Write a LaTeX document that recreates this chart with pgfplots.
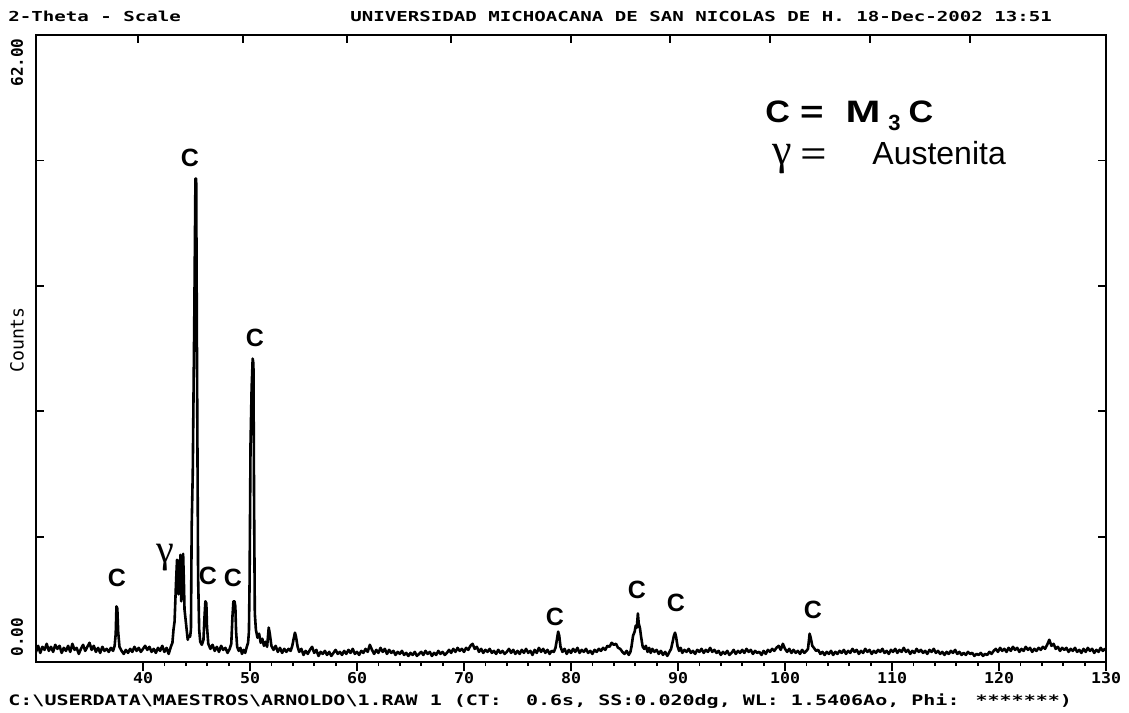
\documentclass[border=0pt]{standalone}
\usepackage{fontspec}
\setmainfont{Liberation Sans}
\newfontfamily\monof{DejaVu Sans Mono}
\newfontfamily\serf{Liberation Serif}
\usepackage{graphicx}
\usepackage{pgfplots}
\pgfplotsset{compat=1.18}
\newcommand\tlab[1]{\scalebox{1}[0.9]{\fontsize{8.3pt}{9pt}\monof\bfseries #1}}
\begin{document}
\begin{tikzpicture}
\begin{axis}[
  at={(0,0)}, anchor=south west,
  width=535pt, height=313.5pt, scale only axis,
  xmin=30, xmax=130, ymin=0, ymax=62,
  axis line style={line width=1pt},
  xtick={40,50,...,130}, minor x tick num=4,
  xticklabels={\tlab{40},\tlab{50},\tlab{60},\tlab{70},\tlab{80},\tlab{90},\tlab{100},\tlab{110},\tlab{120},\tlab{130}},
  xtick pos=left, tick align=outside,
  major tick length=4.5pt, minor tick length=2pt,
  tick style={line width=0.9pt, black},
  ytick=\empty,
  xticklabel style={inner sep=1pt, yshift=0.5pt},
  clip=true,
]
\addplot[black, line width=1.3pt, line join=round] coordinates {
(30.0,1.0)(30.2,1.6)(30.4,0.9)(30.6,1.5)(30.8,1.2)(31.0,1.8)(31.2,1.1)(31.4,1.5)(31.6,1.0)(31.8,1.7)
(32.0,1.3)(32.2,1.6)(32.4,0.9)(32.6,1.4)(32.8,1.1)(33.0,1.6)(33.2,1.0)(33.4,1.8)(33.6,1.2)(33.8,1.4)
(34.0,0.8)(34.2,1.3)(34.4,1.7)(34.6,1.1)(34.8,1.5)(35.0,1.9)(35.2,1.2)(35.4,1.6)(35.6,1.0)(35.8,1.4)
(36.0,0.9)(36.2,1.5)(36.4,1.1)(36.6,1.3)(36.8,1.0)(37.0,1.4)(37.2,1.1)(37.35,1.6)(37.45,2.8)(37.52,5.5)
(37.6,5.3)(37.68,3.0)(37.8,1.5)(38.0,1.1)(38.2,0.8)(38.4,1.2)(38.6,0.9)(38.8,1.3)(39.0,1.0)(39.2,1.5)
(39.4,1.1)(39.6,1.4)(39.8,1.0)(40.0,1.3)(40.2,1.6)(40.4,1.2)(40.6,1.5)(40.8,1.0)(41.0,1.3)(41.2,0.9)
(41.4,1.4)(41.6,1.1)(41.8,1.6)(42.0,1.0)(42.2,1.4)(42.4,0.8)(42.6,1.5)(42.75,1.9)(42.85,3.2)(42.95,4.0)
(43.08,7.7)(43.18,10.1)(43.25,10.0)(43.32,6.7)(43.42,8.0)(43.50,10.6)(43.57,6.0)(43.65,7.0)(43.75,10.7)(43.82,8.0)
(43.88,5.2)(43.95,4.5)(44.08,3.2)(44.18,2.2)(44.28,2.6)(44.40,2.5)(44.48,3.2)(44.55,13.4)(44.65,18.7)(44.80,34.8)
(44.90,47.8)(44.97,47.8)(45.05,29.2)(45.15,8.4)(45.25,3.2)(45.35,2.0)(45.5,1.7)(45.65,2.2)(45.75,4.5)(45.83,6.0)
(45.92,5.8)(45.98,3.5)(46.1,1.8)(46.3,1.3)(46.5,1.7)(46.7,1.1)(46.9,1.5)(47.1,1.0)(47.3,1.6)(47.5,1.2)
(47.7,1.4)(47.9,0.9)(48.1,1.3)(48.25,1.8)(48.36,4.5)(48.45,6.0)(48.55,6.0)(48.63,5.5)(48.7,3.0)(48.8,1.5)
(48.95,1.1)(49.1,1.4)(49.25,0.8)(49.4,1.2)(49.55,0.9)(49.7,1.5)(49.82,1.9)(49.9,3.0)(49.96,7.8)(50.05,21.6)
(50.15,27.0)(50.25,30.0)(50.32,29.5)(50.38,16.0)(50.45,4.8)(50.55,3.2)(50.7,2.4)(50.85,2.8)(51.0,1.9)(51.15,2.3)
(51.3,1.6)(51.45,2.0)(51.6,1.5)(51.75,3.4)(51.85,2.8)(52.0,1.6)(52.2,1.2)(52.4,1.6)(52.6,1.0)(52.8,1.4)
(53.0,0.9)(53.2,1.3)(53.4,1.0)(53.6,1.3)(53.8,1.1)(53.95,1.6)(54.1,2.4)(54.2,2.9)(54.3,2.5)(54.45,1.5)
(54.6,1.0)(54.8,1.3)(55.0,0.7)(55.2,1.1)(55.4,0.8)(55.6,1.2)(55.8,1.5)(56.0,0.9)(56.2,1.2)(56.4,0.6)
(56.6,1.0)(56.8,0.8)(57.0,1.1)(57.2,0.7)(57.4,1.0)(57.6,0.6)(57.8,0.9)(58.0,1.2)(58.2,0.8)(58.4,1.0)
(58.6,0.7)(58.8,1.1)(59.0,0.8)(59.2,1.2)(59.4,0.9)(59.6,1.3)(59.8,0.8)(60.0,1.0)(60.2,0.7)(60.4,1.1)
(60.6,0.9)(60.8,1.3)(61.0,1.0)(61.2,1.7)(61.4,1.2)(61.6,0.8)(61.8,1.2)(62.0,0.9)(62.2,1.4)(62.4,1.0)
(62.6,1.3)(62.8,0.8)(63.0,1.2)(63.2,0.9)(63.4,1.1)(63.6,0.7)(63.8,1.0)(64.0,0.8)(64.2,1.1)(64.4,0.7)
(64.6,0.9)(64.8,0.6)(65.0,0.9)(65.2,0.7)(65.4,1.0)(65.6,0.6)(65.8,0.8)(66.0,1.0)(66.2,0.7)(66.4,1.1)
(66.6,0.8)(66.8,1.0)(67.0,0.6)(67.2,0.9)(67.4,0.7)(67.6,1.1)(67.8,0.8)(68.0,1.0)(68.2,0.7)(68.4,0.9)
(68.6,1.2)(68.8,0.9)(69.0,1.3)(69.2,1.0)(69.4,1.4)(69.6,1.1)(69.8,1.3)(70.0,1.0)(70.2,1.4)(70.4,1.2)
(70.6,1.6)(70.8,1.8)(71.0,1.3)(71.2,1.5)(71.4,1.0)(71.6,1.3)(71.8,0.9)(72.0,1.2)(72.2,1.0)(72.4,1.3)
(72.6,0.9)(72.8,1.1)(73.0,0.8)(73.2,1.2)(73.4,0.9)(73.6,1.1)(73.8,0.8)(74.0,1.0)(74.2,1.3)(74.4,0.9)
(74.6,1.2)(74.8,0.8)(75.0,1.1)(75.2,0.8)(75.4,1.2)(75.6,0.9)(75.8,1.3)(76.0,0.9)(76.2,1.1)(76.4,0.7)
(76.6,1.2)(76.8,0.9)(77.0,1.4)(77.2,1.0)(77.4,1.3)(77.6,0.9)(77.8,1.2)(78.0,0.8)(78.2,1.1)(78.4,1.0)
(78.55,1.4)(78.68,2.2)(78.8,3.0)(78.9,2.6)(79.02,1.5)(79.2,1.0)(79.4,1.3)(79.6,0.8)(79.8,1.2)(80.0,0.9)
(80.2,1.3)(80.4,1.0)(80.6,1.4)(80.8,0.9)(81.0,1.2)(81.2,1.0)(81.4,1.3)(81.6,0.9)(81.8,1.1)(82.0,0.8)
(82.2,1.2)(82.4,1.0)(82.6,1.3)(82.8,1.1)(83.0,1.4)(83.2,1.2)(83.4,1.6)(83.6,1.5)(83.8,1.9)(84.0,1.7)
(84.2,1.8)(84.4,1.4)(84.6,1.3)(84.8,1.0)(85.0,0.8)(85.2,1.1)(85.4,0.7)(85.55,1.0)(85.65,1.5)(85.8,2.6)
(85.95,3.0)(86.05,3.6)(86.15,3.4)(86.25,4.8)(86.33,3.8)(86.45,3.3)(86.55,2.5)(86.7,1.5)(86.85,1.3)(87.0,1.6)
(87.15,1.0)(87.3,1.4)(87.45,0.9)(87.6,1.3)(87.8,1.0)(88.0,1.2)(88.2,0.8)(88.4,1.1)(88.6,0.7)(88.8,1.0)
(89.0,0.6)(89.2,1.0)(89.35,1.3)(89.5,2.0)(89.62,2.6)(89.72,2.9)(89.82,2.5)(89.95,1.6)(90.1,1.1)(90.25,1.4)
(90.4,0.9)(90.6,1.2)(90.8,1.0)(91.0,1.3)(91.2,0.9)(91.4,1.1)(91.6,0.8)(91.8,1.2)(92.0,1.0)(92.2,1.3)
(92.4,0.9)(92.6,1.2)(92.8,1.0)(93.0,1.4)(93.2,1.0)(93.4,1.2)(93.6,0.9)(93.8,1.1)(94.0,0.7)(94.2,1.0)
(94.4,0.8)(94.6,1.1)(94.8,0.7)(95.0,0.9)(95.2,1.2)(95.4,0.8)(95.6,1.1)(95.8,0.9)(96.0,1.2)(96.2,0.9)
(96.4,1.3)(96.6,1.0)(96.8,1.2)(97.0,0.8)(97.2,1.1)(97.4,0.9)(97.6,1.0)(97.8,0.7)(98.0,1.1)(98.2,0.8)
(98.4,1.2)(98.6,1.0)(98.8,1.3)(99.0,1.1)(99.2,1.4)(99.4,1.6)(99.6,1.2)(99.8,1.8)(100.0,1.3)(100.2,1.0)
(100.4,1.3)(100.6,0.9)(100.8,1.2)(101.0,0.9)(101.2,1.1)(101.4,0.8)(101.6,1.2)(101.8,0.9)(102.0,1.1)(102.15,1.3)
(102.3,2.8)(102.4,2.4)(102.55,1.6)(102.7,1.4)(102.9,1.1)(103.1,1.2)(103.3,0.8)(103.5,1.0)(103.7,0.7)(103.9,1.0)
(104.1,0.8)(104.3,1.1)(104.5,0.7)(104.7,1.0)(104.9,0.8)(105.1,1.1)(105.3,0.9)(105.5,1.2)(105.7,0.8)(105.9,1.1)
(106.1,0.9)(106.3,1.3)(106.5,1.0)(106.7,1.2)(106.9,0.8)(107.1,1.1)(107.3,0.9)(107.5,1.3)(107.7,1.0)(107.9,1.2)
(108.1,0.8)(108.3,1.1)(108.5,0.9)(108.7,1.2)(108.9,1.0)(109.1,1.3)(109.3,0.9)(109.5,1.1)(109.7,0.8)(109.9,1.2)
(110.1,1.0)(110.3,1.3)(110.5,0.9)(110.7,1.2)(110.9,1.0)(111.1,1.4)(111.3,1.0)(111.5,1.2)(111.7,0.8)(111.9,1.1)
(112.1,0.9)(112.3,1.3)(112.5,1.0)(112.7,1.2)(112.9,0.9)(113.1,1.1)(113.3,0.8)(113.5,1.2)(113.7,1.0)(113.9,1.3)
(114.1,0.9)(114.3,1.1)(114.5,0.8)(114.7,1.0)(114.9,0.7)(115.1,1.0)(115.3,0.8)(115.5,1.1)(115.7,0.9)(115.9,1.2)
(116.1,0.8)(116.3,1.0)(116.5,0.7)(116.7,0.9)(116.9,0.7)(117.1,1.0)(117.3,0.8)(117.5,0.9)(117.7,0.6)(117.9,0.8)
(118.1,0.7)(118.3,0.9)(118.5,0.6)(118.7,0.8)(118.9,0.7)(119.1,1.0)(119.3,0.8)(119.5,1.1)(119.7,1.3)(119.9,1.0)
(120.1,1.4)(120.3,1.1)(120.5,1.3)(120.7,1.0)(120.9,1.4)(121.1,1.1)(121.3,1.5)(121.5,1.2)(121.7,1.4)(121.9,1.0)
(122.1,1.3)(122.3,1.1)(122.5,1.5)(122.7,1.2)(122.9,1.4)(123.1,1.0)(123.3,1.3)(123.5,1.1)(123.7,1.4)(123.9,1.2)
(124.1,1.5)(124.3,1.3)(124.5,1.7)(124.7,2.2)(124.9,1.6)(125.1,1.8)(125.3,1.3)(125.5,1.5)(125.7,1.1)(125.9,1.4)
(126.1,1.2)(126.3,1.4)(126.5,1.0)(126.7,1.3)(126.9,1.1)(127.1,1.4)(127.3,1.0)(127.5,1.2)(127.7,0.9)(127.9,1.3)
(128.1,1.0)(128.3,1.4)(128.5,1.1)(128.7,1.3)(128.9,0.9)(129.1,1.2)(129.3,1.0)(129.5,1.4)(129.7,1.1)(129.9,1.3)
(130.0,1.2)
};
\end{axis}
\begin{axis}[
  at={(0,0)}, anchor=south west,
  width=535pt, height=313.5pt, scale only axis,
  xmin=30, xmax=130, ymin=0, ymax=62,
  axis line style={line width=1pt},
  xtick={39.53,49.35,59.07,68.79,80.0,89.25,98.6,107.94,117.29},
  xtick pos=right, xticklabels={},
  ytick={12.4,24.8,37.2,49.6}, ytick pos=both, yticklabels={},
  tick align=inside, major tick length=4pt,
  tick style={line width=0.9pt, black},
]
\end{axis}
% texts
\node[anchor=base west, inner sep=0] at (-14pt,320pt) {\scalebox{1}[0.72]{\fontsize{9.55pt}{10pt}\monof\bfseries 2-Theta - Scale}};
\node[anchor=base west, inner sep=0] at (157pt,320pt) {\scalebox{1}[0.72]{\fontsize{9.55pt}{10pt}\monof\bfseries UNIVERSIDAD MICHOACANA DE SAN NICOLAS DE H. 18-Dec-2002 13:51}};
\node[anchor=base west, inner sep=0] at (-14pt,-21.5pt) {\scalebox{1}[0.72]{\fontsize{10pt}{11pt}\monof\bfseries C:\textbackslash USERDATA\textbackslash MAESTROS\textbackslash ARNOLDO\textbackslash 1.RAW 1 (CT:~~0.6s, SS:0.020dg, WL: 1.5406Ao, Phi: *******)}};
\node[rotate=90, anchor=east, inner sep=0] at (-9.5pt,312pt) {\fontsize{8pt}{9pt}\monof\bfseries 62.00};
\node[rotate=90, anchor=west, inner sep=0] at (-9.5pt,2.5pt) {\fontsize{8pt}{9pt}\monof\bfseries 0.00};
\node[rotate=90, inner sep=0] at (-9.5pt,161pt) {\fontsize{9.1pt}{10pt}\monof Counts};
% peak labels
\begin{scope}[every node/.style={inner sep=0, font=\fontsize{12.5pt}{14pt}\bfseries}]
\node at (40.5pt,42pt) {C};
\node at (86pt,43pt) {C};
\node at (98.5pt,42pt) {C};
\node at (77pt,252pt) {C};
\node at (109.5pt,162pt) {C};
\node at (259.5pt,22.5pt) {C};
\node at (300.5pt,36pt) {C};
\node at (320pt,29.5pt) {C};
\node at (388.5pt,26pt) {C};
\end{scope}
\node[inner sep=0] at (64.5pt,52pt) {\fontsize{20pt}{22pt}\serf γ};
% legend text
\node[anchor=base west, inner sep=0] at (364.5pt,269.5pt) {\fontsize{15.5pt}{17pt}\bfseries\scalebox{1.1}[1]{C}\hspace{5pt}\scalebox{1.3}[1]{=}\hspace{11pt}\scalebox{1.35}[1]{M}\hspace{4pt}\raisebox{-4pt}{\fontsize{11pt}{12pt}\selectfont 3}\hspace{4pt}\scalebox{1.1}[1]{C}};
\node[anchor=base west, inner sep=0] at (368pt,248.5pt) {\fontsize{22pt}{24pt}\serf γ};
\node[anchor=base west, inner sep=0] at (382pt,248.5pt) {\fontsize{16pt}{18pt}\selectfont\scalebox{1.4}[1]{=}};
\node[anchor=base west, inner sep=0] at (418pt,248.5pt) {\fontsize{16pt}{18pt}\selectfont Austenita};
\pgfresetboundingbox
\path (-18pt,-25pt) rectangle (546.5pt,331pt);
\end{tikzpicture}
\end{document}
